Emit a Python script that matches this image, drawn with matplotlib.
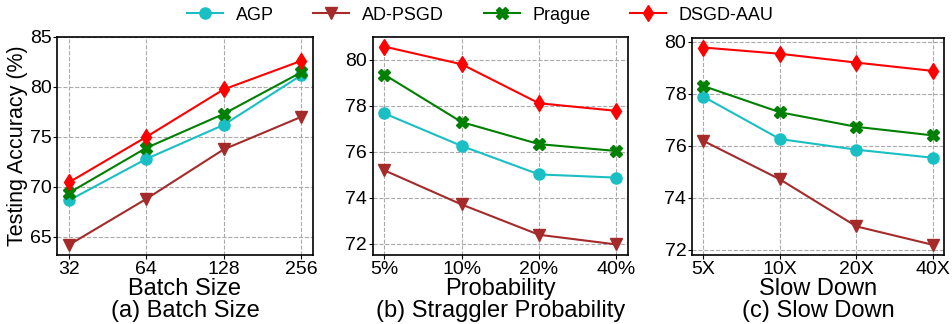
import matplotlib.pyplot as plt

plt.rcParams["font.family"] = ["Liberation Sans", "DejaVu Sans"]

methods = ["AGP", "AD-PSGD", "Prague", "DSGD-AAU"]
colors = ["#1ABFC4", "#A52A2A", "green", "red"]
markers = ["o", "v", "X", "d"]

# (a) batch size
batch_labels = ["32", "64", "128", "256"]
batch_acc = {
    "AGP": [68.65, 72.8, 76.2, 81.15],
    "AD-PSGD": [64.2, 68.8, 73.75, 77.0],
    "Prague": [69.4, 73.9, 77.3, 81.45],
    "DSGD-AAU": [70.45, 75.0, 79.75, 82.6],
}

# (b) straggler probability
prob_labels = ["5%", "10%", "20%", "40%"]
prob_acc = {
    "AGP": [77.67, 76.25, 75.01, 74.87],
    "AD-PSGD": [75.19, 73.7, 72.38, 71.96],
    "Prague": [79.36, 77.29, 76.33, 76.03],
    "DSGD-AAU": [80.58, 79.81, 78.11, 77.78],
}

# (c) slow down
slow_labels = ["5X", "10X", "20X", "40X"]
slow_acc = {
    "AGP": [77.89, 76.26, 75.85, 75.54],
    "AD-PSGD": [76.19, 74.71, 72.9, 72.19],
    "Prague": [78.3, 77.29, 76.73, 76.4],
    "DSGD-AAU": [79.78, 79.54, 79.2, 78.88],
}

fig = plt.figure(figsize=(9.53, 3.24), dpi=100)
ax_a = fig.add_axes([0.060, 0.213, 0.268, 0.673])
ax_b = fig.add_axes([0.391, 0.213, 0.268, 0.673])
ax_c = fig.add_axes([0.726, 0.213, 0.265, 0.670])

panels = [
    (ax_a, batch_labels, batch_acc, "Batch Size", "(a) Batch Size", (63.2, 85), [65, 70, 75, 80, 85]),
    (ax_b, prob_labels, prob_acc, "Probability", "(b) Straggler Probability", (71.5, 81.0), [72, 74, 76, 78, 80]),
    (ax_c, slow_labels, slow_acc, "Slow Down", "(c) Slow Down", (71.8, 80.15), [72, 74, 76, 78, 80]),
]

for ax, labels, data, xlabel, caption, ylim, yticks in panels:
    x = range(len(labels))
    for m, c, mk in zip(methods, colors, markers):
        ax.plot(x, data[m], color=c, marker=mk, markersize=8, linewidth=1.5, label=m)
    ax.set_xticks(list(x))
    ax.set_xticklabels(labels)
    ax.set_xlim(-0.15, 3.15)
    ax.set_ylim(*ylim)
    ax.set_yticks(yticks)
    ax.tick_params(labelsize=14, length=3, pad=1)
    ax.grid(True, linestyle="--", color="#aaaaaa", linewidth=0.8)
    ax.set_axisbelow(True)
    ax.set_xlabel(xlabel, fontsize=17, labelpad=0)
    ax.text(0.5, -0.285, caption, transform=ax.transAxes, ha="center", va="baseline", fontsize=17)
    for s in ax.spines.values():
        s.set_linewidth(1.2)

ax_a.set_ylabel("Testing Accuracy (%)", fontsize=15.5, labelpad=1)

handles, lbls = ax_a.get_legend_handles_labels()
fig.legend(handles, lbls, loc="upper center", bbox_to_anchor=(0.504, 1.03), ncol=4,
           frameon=False, fontsize=13, handlelength=2.0, handletextpad=0.7, columnspacing=2.2)

fig.savefig("out.png", dpi=100)
